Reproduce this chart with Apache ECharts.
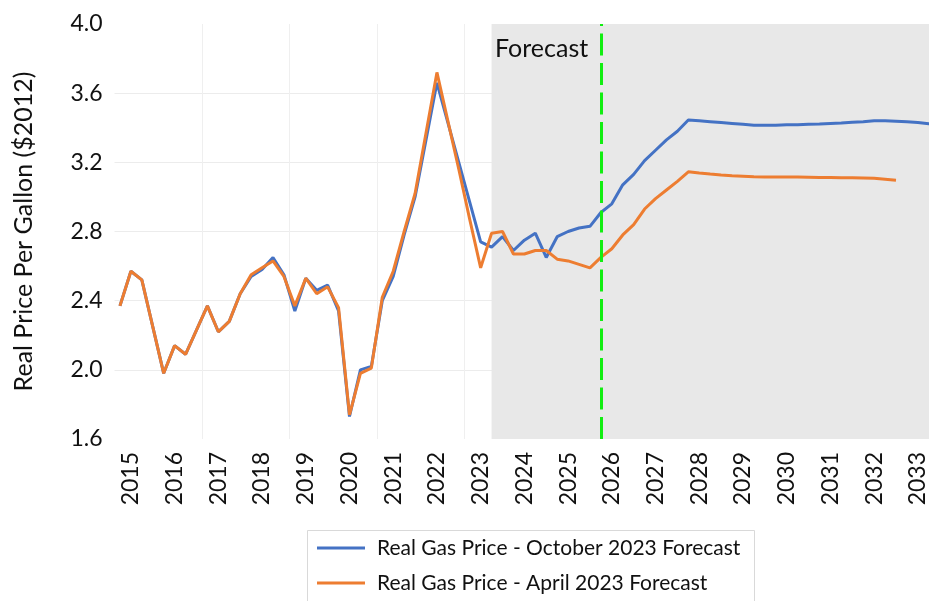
<!DOCTYPE html>
<html>
<head>
<meta charset="utf-8">
<script src="https://cdn.jsdelivr.net/npm/echarts@6/dist/echarts.min.js"></script>
<style>
	html, body { margin: 0; padding: 0; background: #fff; }
	#chart { width: 929px; height: 601px; }
</style>
</head>
<body>
<div id="chart"></div>
<script>
// year tick labels (shown on the first quarter of each year)
var yearLabels = ['2015', '2016', '2017', '2018', '2019', '2020', '2021', '2022', '2023', '2024',
	'2025', '2026', '2027', '2028', '2029', '2030', '2031', '2032', '2033'];
var quarterNames = ['Q1', 'Q2', 'Q3', 'Q4'];
var firstCategory = '2014 Q4';

// real gas price, $2012 per gallon, quarterly
var octForecast = [
	2.37, 2.57, 2.52, 2.25, 1.98, 2.14, 2.09, 2.23, 2.37, 2.22,
	2.28, 2.44, 2.54, 2.58, 2.65, 2.55, 2.34, 2.53, 2.46, 2.49,
	2.34, 1.73, 2.00, 2.02, 2.40, 2.54, 2.78, 3.00, 3.33, 3.66,
	3.43, 3.20, 2.97, 2.74, 2.71, 2.77, 2.69, 2.75, 2.79, 2.65,
	2.77, 2.80, 2.82, 2.83, 2.91, 2.96, 3.07, 3.13, 3.21, 3.27,
	3.33, 3.38, 3.445, 3.44, 3.435, 3.43, 3.425, 3.42, 3.415, 3.415,
	3.415, 3.418, 3.418, 3.42, 3.422, 3.425, 3.428, 3.432, 3.435, 3.44,
	3.44, 3.438, 3.434, 3.43, 3.423, 3.418
];
var aprForecast = [
	2.37, 2.57, 2.52, 2.25, 1.98, 2.14, 2.09, 2.23, 2.37, 2.22,
	2.28, 2.44, 2.55, 2.59, 2.63, 2.54, 2.37, 2.53, 2.44, 2.48,
	2.36, 1.74, 1.98, 2.01, 2.42, 2.57, 2.80, 3.02, 3.37, 3.72,
	3.44, 3.16, 2.87, 2.59, 2.79, 2.80, 2.67, 2.67, 2.69, 2.69,
	2.64, 2.63, 2.61, 2.59, 2.65, 2.70, 2.78, 2.84, 2.93, 2.99,
	3.04, 3.09, 3.145, 3.138, 3.132, 3.127, 3.123, 3.12, 3.117, 3.115,
	3.115, 3.115, 3.115, 3.114, 3.113, 3.112, 3.111, 3.111, 3.11, 3.108,
	3.102, 3.096
];

var forecastStart = '2023 Q2';
var forecastLine = '2025 Q4';

window.onload = function () {

	var categories = [firstCategory];
	for (var i = 0; i < yearLabels.length; i++) {
		for (var q = 0; q < quarterNames.length; q++) {
			categories.push(yearLabels[i] + ' ' + quarterNames[q]);
		}
	}

	var font = 'Lato';
	var band = 10.93;
	var chart = echarts.init(document.getElementById('chart'));

	var option = {
		backgroundColor: '#fff',
		animation: false,
		grid: {
			left: 114.5,
			top: 24,
			bottom: 162,
			width: band * categories.length,
			outerBoundsMode: 'none',
			containLabel: false
		},
		graphic: [{
			type: 'text',
			left: 495,
			top: 36,
			z: 10,
			style: {
				text: 'Forecast',
				font: '25px Lato',
				fill: '#111'
			}
		}, {
			type: 'rect',
			left: 305,
			top: 528,
			z: 10,
			shape: { width: 447, height: 90 },
			style: { fill: 'none', stroke: '#d9d9d9', lineWidth: 1 }
		}],
		legend: {
			data: ['Real Gas Price - October 2023 Forecast', 'Real Gas Price - April 2023 Forecast'],
			orient: 'vertical',
			left: 305,
			top: 528,
			padding: [8, 14, 2, 12],
			icon: 'rect',
			itemWidth: 48,
			itemHeight: 3,
			itemGap: 11,
			textStyle: {
				fontFamily: font,
				fontSize: 21,
				lineHeight: 24,
				color: '#111',
				padding: [0, 0, 0, 7]
			}
		},
		xAxis: {
			type: 'category',
			data: categories,
			axisLine: { show: false },
			axisTick: { show: false },
			axisLabel: {
				rotate: 90,
				margin: 13,
				fontFamily: font,
				fontSize: 23,
				color: '#111',
				interval: function (idx, val) {
					return val.indexOf('Q1') > -1;
				},
				formatter: function (val) {
					return val.split(' ')[0];
				}
			},
			splitLine: {
				show: true,
				interval: function (idx) {
					return idx > 0 && idx % 8 == 0;
				},
				lineStyle: { color: '#efefef', width: 1 }
			}
		},
		yAxis: {
			type: 'value',
			min: 1.6,
			max: 4.0,
			interval: 0.4,
			name: 'Real Price Per Gallon ($2012)',
			nameLocation: 'middle',
			nameRotate: 90,
			nameGap: 78,
			nameTextStyle: {
				fontFamily: font,
				fontSize: 25,
				color: '#111'
			},
			axisLine: { show: false },
			axisTick: { show: false },
			axisLabel: {
				margin: 12,
				fontFamily: font,
				fontSize: 23,
				color: '#111',
				formatter: function (v) {
					return v.toFixed(1);
				}
			},
			splitLine: {
				show: true,
				showMinLine: false,
				showMaxLine: false,
				lineStyle: { color: '#ececec', width: 1 }
			}
		},
		series: [
			{
				name: 'forecast-area',
				type: 'line',
				data: [],
				z: 1,
				silent: true,
				markArea: {
					silent: true,
					itemStyle: { color: '#e8e8e8' },
					data: [[
						{ xAxis: forecastStart },
						{ xAxis: categories[categories.length - 1] }
					]]
				}
			},
			{
				name: 'Real Gas Price - October 2023 Forecast',
				type: 'line',
				data: octForecast,
				symbol: 'none',
				z: 3,
				lineStyle: { color: '#4472c4', width: 3 },
				itemStyle: { color: '#4472c4' }
			},
			{
				name: 'Real Gas Price - April 2023 Forecast',
				type: 'line',
				data: aprForecast,
				symbol: 'none',
				z: 4,
				lineStyle: { color: '#ed7d31', width: 3 },
				itemStyle: { color: '#ed7d31' }
			},
			{
				name: 'forecast-line',
				type: 'line',
				data: [],
				z: 6,
				silent: true,
				markLine: {
					silent: true,
					symbol: 'none',
					label: { show: false },
					lineStyle: { color: '#11ee11', width: 3, type: [22, 7.5] },
					data: [{ xAxis: forecastLine }]
				}
			}
		]
	};
	chart.setOption(option);
}
</script>
</body>
</html>
